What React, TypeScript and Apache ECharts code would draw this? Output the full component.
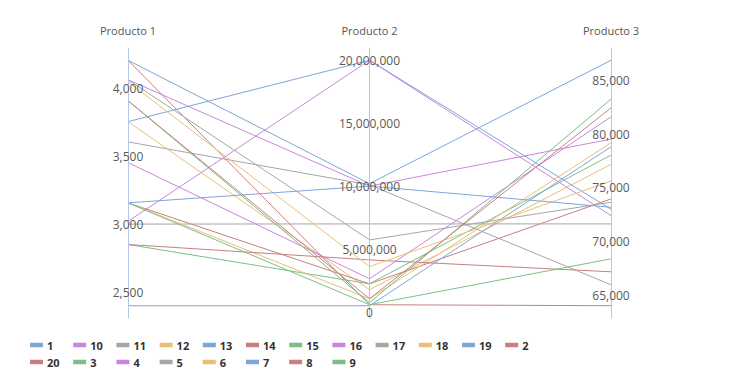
import React, { useEffect, useRef } from "react";
import * as echarts from "echarts";

const dims = ["Producto 1", "Producto 2", "Producto 3"];

const names = ["1", "10", "11", "12", "13", "14", "15", "16", "17", "18", "19", "2", "20", "3", "4", "5", "6", "7", "8", "9"];

// values per series: [Producto 1, Producto 2, Producto 3]
const s1 = [4204, 10200000, 86865];
const s10 = [4061, 10000000, 79536];
const s11 = [3604, 10100000, 65993];
const s12 = [3753, 1770000, 77189];
const s13 = [3753, 20000000, 73015];
const s14 = [3156, 2240000, 73970];
const s15 = [2850, 2240000, 78052];
const s16 = [3452, 2640000, 81605];
const s17 = [3000, 7000000, 71651];
const s18 = [3156, 1050000, 79193];
const s19 = [2400, 500000, 78822];
const s2 = [4204, 580000, 64045];
const s20 = [2850, 4140000, 67199];
const s3 = [3907, 740000, 83247];
const s4 = [3020, 20000000, 72421];
const s5 = [4061, 5730000, 73664];
const s6 = [4046, 3610000, 75640];
const s7 = [3156, 10000000, 73200];
const s8 = [3907, 1050000, 82440];
const s9 = [3156, 580000, 68404];

const values = [s1, s10, s11, s12, s13, s14, s15, s16, s17, s18, s19, s2, s20, s3, s4, s5, s6, s7, s8, s9];

const BLUE = "#7fa5d8";
const RED = "#c97f7f";
const GREEN = "#7cbf86";
const PURPLE = "#c986dc";
const GRAY = "#a6a6a6";
const ORANGE = "#e9bf78";
const palette = [BLUE, RED, GREEN, PURPLE, GRAY, ORANGE];

export default function App() {
  const ref = useRef<HTMLDivElement>(null);
  useEffect(() => {
    if (!ref.current) return;
    const chart = echarts.init(ref.current, undefined, { renderer: "svg" });
    const colors = names.map((n) => palette[(parseInt(n, 10) - 1) % 6]);
    const axes = dims.map((d, i) => {
      const col = values.map((v) => v[i]);
      const lo = Math.min(...col);
      const hi = Math.max(...col);
      const p = (hi - lo) * 0.05;
      return {
        dim: i,
        name: d,
        type: "value",
        min: lo - p,
        max: hi + p,
        splitNumber: 4,
        nameLocation: "end",
        nameGap: 12,
        nameTextStyle: { color: "#555", fontSize: 11, fontFamily: "Open Sans" },
        axisLine: { lineStyle: { color: "#b3c7e8", width: 1 } },
        axisTick: { show: false },
        axisLabel: {
          align: "center",
          margin: 0,
          color: "#5a5a5a",
          fontSize: 12,
          fontFamily: "Open Sans",
          showMinLabel: false,
          showMaxLabel: false,
        },
        splitLine: { show: false },
      };
    });
    chart.setOption({
      animation: false,
      color: colors,
      parallel: {
        left: 128,
        right: 123,
        top: 48,
        bottom: 67,
      },
      parallelAxis: axes,
      legend: {
        data: names,
        left: 30,
        top: 338,
        width: 530,
        padding: 0,
        itemGap: 3,
        itemWidth: 11,
        itemHeight: 2.5,
        icon: "rect",
        textStyle: {
          color: "#333",
          fontSize: 11,
          fontWeight: "bold",
          fontFamily: "Open Sans",
          width: 23.2,
          lineHeight: 14,
          backgroundColor: "rgba(0,0,0,0)",
        },
      },
      series: names.map((n, i) => ({
        name: n,
        type: "parallel",
        lineStyle: { width: 1, opacity: 1, color: colors[i] },
        itemStyle: { color: colors[i] },
        data: [values[i]],
      })),
    });
    return () => chart.dispose();
  }, []);
  return (
    <div
      ref={ref}
      style={{ position: "absolute", left: 0, top: 0, width: 734, height: 385 }}
    />
  );
}
